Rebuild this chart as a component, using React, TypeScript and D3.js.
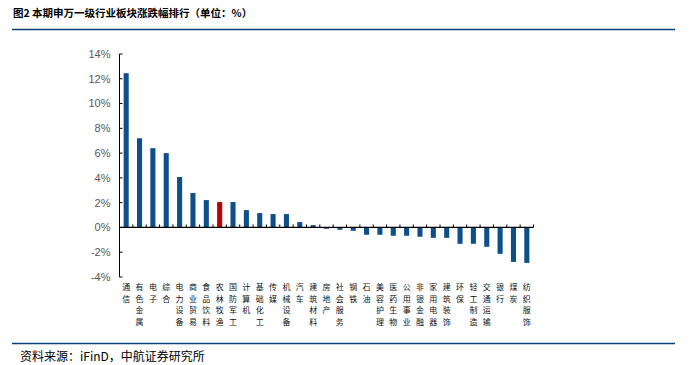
import React from "react";
import * as d3 from "d3";

const categories: string[] = [
  "通信", "有色金属", "电子", "综合", "电力设备", "商业贸易", "食品饮料", "农林牧渔",
  "国防军工", "计算机", "基础化工", "传媒", "机械设备", "汽车", "建筑材料", "房地产",
  "社会服务", "钢铁", "石油", "美容护理", "医药生物", "公用事业", "非银金融", "家用电器",
  "建筑装饰", "环保", "轻工制造", "交通运输", "银行", "煤炭", "纺织服饰",
];
const values: number[] = [
  12.45, 7.2, 6.4, 6.0, 4.07, 2.78, 2.21, 2.05,
  2.05, 1.4, 1.16, 1.08, 1.08, 0.43, 0.19, -0.11,
  -0.19, -0.27, -0.59, -0.59, -0.67, -0.67, -0.75, -0.84,
  -0.84, -1.32, -1.32, -1.56, -2.13, -2.78, -2.86,
];
const highlight = "农林牧渔";
const yTicks: number[] = [-4, -2, 0, 2, 4, 6, 8, 10, 12, 14];
const title = "图2  本期申万一级行业板块涨跌幅排行（单位：%）";
const source = "资料来源：iFinD，中航证券研究所";

const W = 691, H = 365;
const BLUE = "#0D4F8B";
const RED = "#C00000";

export default function App() {
  const x = d3.scaleBand<string>().domain(categories).range([119.5, 533.5]).paddingInner(0.62).paddingOuter(0.31);
  const y = d3.scaleLinear().domain([-4, 14]).range([277, 54]);
  const y0 = y(0);
  const step = x.step();
  const [r0, r1] = x.range();
  const boundaries = d3.range(categories.length + 1).map((i) => r0 + i * step);

  return (
    <svg width={W} height={H} style={{ position: "absolute", left: 0, top: 0, background: "#fff" }}>
      <rect width={W} height={H} fill="#fff" />
      <text x={13} y={17} fontFamily="'Noto Sans CJK SC', sans-serif" fontWeight="bold" fontSize={10.5} fill="#000">
        {title}
      </text>
      <line x1={12} x2={675} y1={29.5} y2={29.5} stroke="#0B3F7C" strokeWidth={1.5} />

      {/* bars */}
      {categories.map((c, i) => {
        const v = values[i];
        const top = Math.min(y(v), y0);
        const h = Math.abs(y(v) - y0);
        return (
          <rect key={c} x={x(c)} y={top} width={x.bandwidth()} height={h} fill={c === highlight ? RED : BLUE} />
        );
      })}

      {/* y axis */}
      <line x1={r0} x2={r0} y1={y(14)} y2={y(-4)} stroke="#000" strokeWidth={1} />
      {yTicks.map((t) => (
        <g key={t}>
          <line x1={r0} x2={r0 + 3} y1={y(t)} y2={y(t)} stroke="#000" />
          <text x={110.5} y={y(t)} dy="0.35em" textAnchor="end" fontFamily="'Liberation Sans', Arial, sans-serif" fontSize={11} fill="#595959">
            {`${t}%`}
          </text>
        </g>
      ))}

      {/* x axis */}
      <line x1={r0} x2={r1} y1={y0} y2={y0} stroke="#000" strokeWidth={1.2} />
      {boundaries.slice(1).map((b, i) => (
        <line key={i} x1={b} x2={b} y1={y0} y2={y0 - 3} stroke="#000" />
      ))}

      {/* x labels vertical */}
      {categories.map((c) => {
        const cx = (x(c) as number) + x.bandwidth() / 2;
        return (
          <g key={c}>
            {Array.from(c).map((ch, j) => (
              <text
                key={j}
                x={cx}
                y={287 + j * 11.7}
                dy="0.36em"
                textAnchor="middle"
                fontFamily="'Noto Sans CJK SC', sans-serif"
                fontSize={8}
                fill="#111"
              >
                {ch}
              </text>
            ))}
          </g>
        );
      })}

      <line x1={12} x2={675} y1={343.5} y2={343.5} stroke="#0B3F7C" strokeWidth={1.5} />
      <text x={20} y={360.5} fontFamily="'Noto Sans CJK SC', sans-serif" fontSize={12} fill="#000">
        {source}
      </text>
    </svg>
  );
}
